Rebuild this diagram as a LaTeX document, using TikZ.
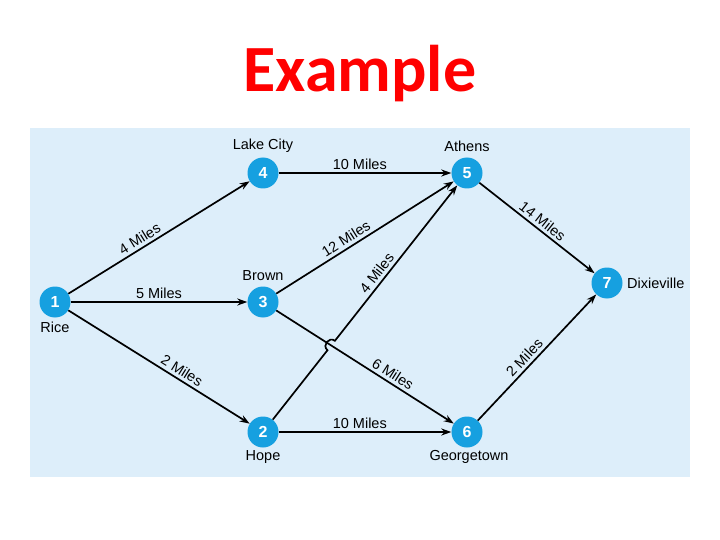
\documentclass[tikz,border=0pt]{standalone}
\usepackage{fontspec}
\setmainfont{Liberation Sans}
\newfontfamily\titlefont{Carlito}
\usetikzlibrary{arrows.meta,calc}
\definecolor{panel}{RGB}{221,238,250}
\definecolor{nodeblue}{RGB}{22,160,224}
\definecolor{titlered}{RGB}{255,0,0}
\begin{document}
\begin{tikzpicture}[x=1pt,y=-1pt,
  city/.style={circle,fill=nodeblue,minimum size=31pt,inner sep=0pt,text=white,font=\fontsize{16}{16}\selectfont\bfseries},
  lbl/.style={font=\fontsize{14.5}{14.5}\selectfont,inner sep=1pt},
  road/.style={line width=1.7pt,-{Stealth[length=10pt,width=7pt]}},
  dist/.style={font=\fontsize{14.5}{14.5}\selectfont,sloped,above,inner sep=3pt}]
\useasboundingbox (0,0) rectangle (720,540);
\fill[white] (0,0) rectangle (720,540);
\node[font=\titlefont\bfseries\fontsize{66}{66}\selectfont,text=titlered] (title) at (360,74) {Example};
\fill[panel] (30,128) rectangle (690,477);

\node[city] (n1) at (55,302) {1};
\node[city] (n2) at (263,432) {2};
\node[city] (n3) at (263,302) {3};
\node[city] (n4) at (263,173) {4};
\node[city] (n5) at (467,173) {5};
\node[city] (n6) at (467,432) {6};
\node[city] (n7) at (607,283) {7};

\node[lbl] (l1) at (55,327) {Rice};
\node[lbl] (l2) at (263,457) {Hope};
\node[lbl] (l3) at (263,276) {Brown};
\node[lbl] (l4) at (263,146) {Lake City};
\node[lbl] (l5) at (467,146) {Athens};
\node[lbl] (l6) at (469,457) {Georgetown};
\node[lbl,anchor=west] (l7) at (626,283) {Dixieville};

\draw[road] (n1) -- node[dist,pos=0.42] {4 Miles} (n4);
\draw[road] (n1) -- node[dist,pos=0.5] {5 Miles} (n3);
\draw[road] (n1) -- node[dist,pos=0.6] {2 Miles} (n2);
\draw[road] (n4) -- node[dist,pos=0.47] {10 Miles} (n5);
\draw[road] (n2) -- node[dist,pos=0.47] {10 Miles} (n6);
\draw[road] (n3) -- node[dist,pos=0.42] {12 Miles} (n5);
\draw[road] (n3) -- node[dist,pos=0.63] {6 Miles} (n6);
\draw[road] (n5) -- node[dist,pos=0.5] {14 Miles} (n7);
\draw[road] (n6) -- node[dist,pos=0.45] {2 Miles} (n7);

\coordinate (X) at (intersection of n2.center--n5.center and n3.center--n6.center);
\coordinate (hA) at ($(X)!6pt!(n2.center)$);
\coordinate (hB) at ($(X)!6pt!(n5.center)$);
\draw[road] (n2) -- (hA) to[bend left=90,looseness=1.6] (hB) -- node[dist,pos=0.4] {4 Miles} (n5);
\end{tikzpicture}
\end{document}
